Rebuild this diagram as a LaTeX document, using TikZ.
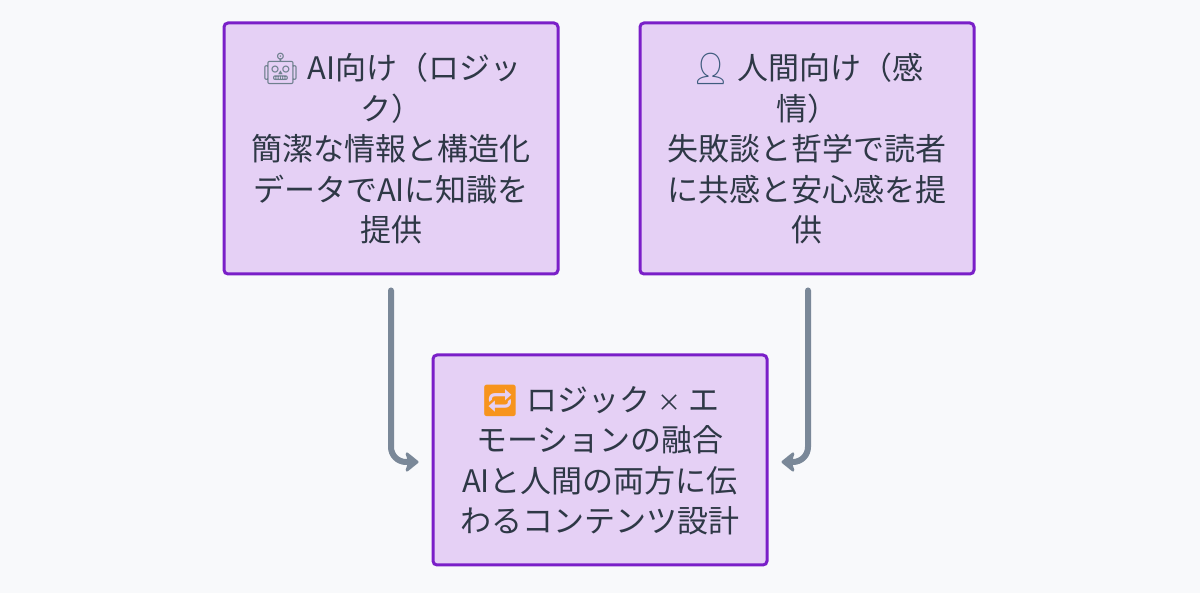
\documentclass[tikz,border=0pt]{standalone}
\usepackage{fontspec}
\setmainfont{Noto Sans CJK JP}
\newfontfamily\emojifont{Noto Emoji}
\usetikzlibrary{arrows.meta}
\definecolor{bgc}{HTML}{F8F9FB}
\definecolor{boxfill}{HTML}{E5D0F5}
\definecolor{boxline}{HTML}{7A1FC8}
\definecolor{txt}{HTML}{2E3846}
\definecolor{arr}{HTML}{7A8898}
\definecolor{robotc}{HTML}{6F808E}
\definecolor{personc}{HTML}{3F5C7E}
\definecolor{loopc}{HTML}{F7941D}
\tikzset{
  card/.style={draw=boxline, line width=3pt, fill=boxfill, rounded corners=4pt,
    minimum width=334pt, text=txt, align=center, inner sep=0pt,
    font=\fontsize{31pt}{40.5pt}\selectfont},
  flow/.style={draw=arr, line width=6pt, line cap=round, rounded corners=15pt,
    -{Stealth[length=15pt,width=24pt,inset=4pt,round]}}
}
\begin{document}
\begin{tikzpicture}[x=1pt,y=1pt]
\fill[bgc] (0,0) rectangle (1200,593);
\useasboundingbox (0,0) rectangle (1200,593);
\node[card, minimum height=251pt] (ai) at (391,444.5)
  {{\emojifont\color{robotc}🤖} AI向け（ロジッ\\ク）\\簡潔な情報と構造化\\データでAIに知識を\\提供};
\node[card, minimum height=251pt] (hu) at (807,444.5)
  {{\emojifont\color{personc}👤} 人間向け（感\\情）\\失敗談と哲学で読者\\に共感と安心感を提\\供};
\node[card, minimum height=210pt] (mix) at (600,133)
  {{\emojifont\color{loopc}🔁} ロジック {\fontsize{24pt}{30pt}\selectfont ×} エ\\モーションの融合\\AIと人間の両方に伝\\わるコンテンツ設計};
\coordinate (a1) at ([yshift=-15pt]ai.south);
\coordinate (a2) at ([xshift=-13pt,yshift=-2pt]mix.west);
\coordinate (h1) at ([yshift=-15pt,xshift=1pt]hu.south);
\coordinate (h2) at ([xshift=13pt,yshift=-2pt]mix.east);
\draw[flow] (a1) |- (a2);
\draw[flow] (h1) |- (h2);
\end{tikzpicture}
\end{document}
